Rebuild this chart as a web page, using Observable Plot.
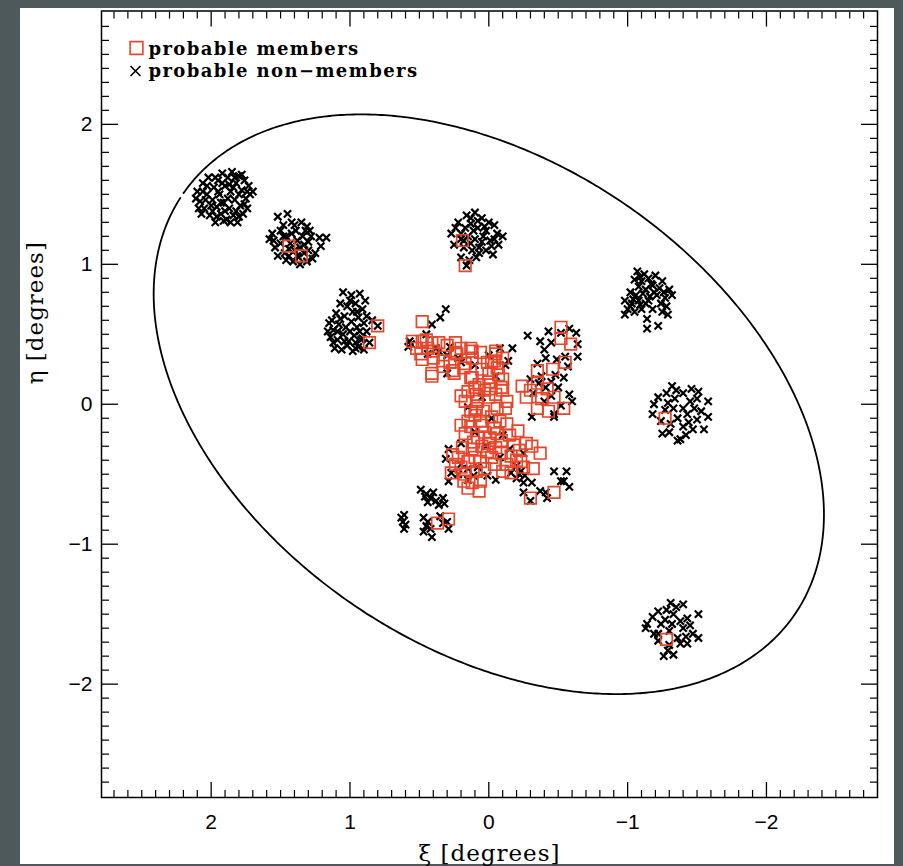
<!DOCTYPE html>
<html><head><meta charset="utf-8">
<script src="https://cdn.jsdelivr.net/npm/d3@7"></script>
<script src="https://cdn.jsdelivr.net/npm/@observablehq/plot@0.6"></script>
<style>
html,body{margin:0;padding:0;background:#4e595b;width:903px;height:866px;overflow:hidden;}
#paper{position:absolute;left:20px;top:8px;width:874px;height:856px;background:#fff;}
#chart{position:absolute;left:0;top:0;}
</style></head><body>
<div id="paper"></div><div id="chart"></div>
<script>
// ---- data (xi, eta in degrees) ----
const xTicks = [2, 1, 0, -1, -2];
const yTicks = [2, 1, 0, -1, -2];
const seriesNames = ["probable members", "probable non\u2212members"];

// tidal ellipse parameters
const tidalRadius = 2.667;   // semi-major axis, degrees
const ellipticity = 0.35;
const positionAngle = 56;    // degrees, N through E

const membersCentre = [
[0.48,0.59],[0.55,0.45],[0.48,0.45],[0.41,0.44],[0.49,0.36],[0.40,0.38],[0.33,0.31],[0.41,0.22],[0.24,0.44],[0.24,0.37],[0.25,0.22],[0.13,0.40],[0.12,0.33],[0.18,0.26],[0.13,0.19],[0.06,0.37],[0.01,0.30],[-0.05,0.36],[-0.06,0.26],[0.00,0.22],[0.07,0.14],[-0.01,0.11],[-0.09,0.12],[-0.10,0.18],[0.15,0.09],[0.17,0.02],[0.08,0.02],[0.13,-0.05],[0.04,-0.05],[-0.06,-0.03],[-0.13,0.02],
[0.44,0.40],[0.48,0.32],[0.40,0.33],[0.41,0.20],[0.33,0.27],[0.23,0.36],[0.26,0.24],[0.12,0.38],[0.17,0.29],[0.12,0.19],[-0.05,0.38],[-0.04,0.31],[-0.10,0.33],[-0.07,0.21],[0.00,0.16],[0.09,0.07],[0.00,0.05],[-0.10,0.10],[0.09,-0.03],[-0.12,-0.03],
[0.20,0.40],[0.30,0.42],[0.36,0.44],[0.45,0.46],[0.52,0.40],[0.28,0.30],[0.05,0.25],[-0.02,0.30],[0.10,0.12],[0.03,0.10],[-0.05,0.07],[0.20,0.06]
];
const membersEastArm = [
[-0.52,0.55],[-0.52,0.47],[-0.59,0.43],[-0.55,0.30],[-0.46,0.25],[-0.35,0.24],[-0.35,0.15],[-0.24,0.13],[-0.27,0.05],[-0.35,-0.03],[-0.42,0.11],[-0.47,0.05],[-0.54,-0.03],[-0.43,-0.05],[-0.30,0.10],[-0.38,0.04]
];
const membersSouth = [
[0.15,-0.12],[0.06,-0.12],[-0.04,-0.17],[-0.13,-0.14],[-0.21,-0.19],[0.17,-0.21],[0.08,-0.24],[-0.01,-0.24],[-0.09,-0.26],[-0.18,-0.29],[-0.27,-0.28],[-0.31,-0.30],[-0.37,-0.35],[0.19,-0.31],[0.12,-0.32],[0.01,-0.34],[-0.09,-0.35],[-0.16,-0.37],[0.26,-0.36],[0.24,-0.43],[0.15,-0.41],[0.06,-0.41],[-0.04,-0.43],[-0.13,-0.43],[-0.23,-0.41],[-0.32,-0.46],[0.27,-0.49],[0.17,-0.50],[0.09,-0.48],[0.12,-0.56],[0.15,-0.60],[0.06,-0.55],[-0.16,-0.49],[-0.30,-0.67],[-0.47,-0.63],[0.37,-0.85],[0.29,-0.82],
[0.10,-0.08],[-0.02,-0.09],[0.20,-0.15],[0.03,-0.20],[-0.06,-0.21],[0.11,-0.27],[-0.22,-0.33],[0.05,-0.30],[-0.02,-0.38],[0.20,-0.45],[0.07,-0.62],
[0.05,-0.15],[-0.08,-0.12],[0.13,-0.16],[-0.15,-0.22],[0.00,-0.28],[-0.05,-0.31],[0.22,-0.38],[-0.20,-0.40],[0.10,-0.38],[-0.25,-0.45],[0.03,-0.46],[0.18,-0.55],[-0.10,-0.48]
];
const membersOuter = [
[1.44,1.13],[1.35,1.06],[0.80,0.56],[0.86,0.44],[0.19,1.17],[0.17,0.99],[-1.27,-0.10],[-1.28,-1.68]
];

const nonFieldA = [
[2.10,1.52],[2.08,1.45],[2.06,1.58],[2.05,1.40],[2.03,1.50],[2.02,1.62],[2.01,1.35],[1.99,1.46],[1.98,1.55],[1.97,1.30],[1.96,1.41],[1.95,1.60],[1.94,1.50],[1.93,1.36],[1.92,1.65],[1.91,1.44],[1.90,1.56],[1.89,1.32],[1.88,1.62],[1.87,1.40],[1.86,1.52],[1.85,1.66],[1.84,1.35],[1.83,1.46],[1.82,1.58],[1.81,1.30],[1.80,1.63],[1.79,1.42],[1.78,1.53],[1.77,1.36],[1.76,1.60],[1.75,1.47],[1.74,1.40],[1.73,1.56],[1.72,1.50],[2.07,1.36],[2.11,1.47],[1.96,1.34],[1.88,1.47],[1.82,1.38],[1.78,1.64],[1.92,1.58],[2.00,1.42],[1.86,1.30],[1.70,1.52],[2.04,1.46],[1.95,1.52],[1.84,1.55],[1.90,1.38],[1.80,1.50],
[2.09,1.40],[2.03,1.56],[1.97,1.62],[1.93,1.44],[1.87,1.57],[1.83,1.62],[1.80,1.34],[1.76,1.43],[1.74,1.52],[1.99,1.38],[1.91,1.31],[2.06,1.52]
];
const nonFieldB = [
[1.52,1.34],[1.45,1.36],[1.40,1.28],[1.35,1.30],[1.31,1.27],[1.29,1.24],[1.56,1.22],[1.58,1.18],[1.50,1.24],[1.46,1.20],[1.42,1.22],[1.38,1.17],[1.34,1.20],[1.30,1.16],[1.22,1.19],[1.17,1.19],[1.21,1.13],[1.54,1.12],[1.50,1.15],[1.47,1.08],[1.44,1.11],[1.40,1.10],[1.37,1.05],[1.33,1.08],[1.30,1.10],[1.27,1.04],[1.52,1.06],[1.46,1.03],[1.41,1.02],[1.36,1.00],[1.31,1.02],[1.48,1.28],[1.43,1.15],[1.39,1.24],[1.33,1.14],[1.25,1.08],[1.55,1.17],[1.44,1.06],[1.36,1.12],[1.28,1.20],
[1.48,1.20],[1.32,1.24],[1.38,1.06],[1.42,1.30]
];
const nonFieldC = [
[1.05,0.80],[0.99,0.78],[0.93,0.79],[0.89,0.74],[1.07,0.72],[1.02,0.70],[0.96,0.72],[0.91,0.68],[1.10,0.65],[1.04,0.63],[0.98,0.66],[0.94,0.62],[0.88,0.63],[1.15,0.58],[1.12,0.53],[1.08,0.57],[1.03,0.55],[0.99,0.59],[0.95,0.55],[0.90,0.58],[0.84,0.60],[1.14,0.48],[1.09,0.46],[1.05,0.50],[1.01,0.45],[0.97,0.49],[0.92,0.46],[0.88,0.52],[1.11,0.40],[1.06,0.39],[1.02,0.42],[0.98,0.38],[0.94,0.41],[0.90,0.39],[0.86,0.44],[1.00,0.52],[1.07,0.61],[0.93,0.52],[1.12,0.44],[0.96,0.44],[0.80,0.56],
[1.13,0.60],[1.09,0.52],[1.04,0.45],[0.95,0.66],[0.91,0.47],[1.00,0.74],[0.96,0.40],[1.16,0.52]
];
const nonFieldD = [
[0.16,1.35],[0.10,1.37],[0.05,1.33],[0.00,1.30],[-0.04,1.28],[0.22,1.30],[0.13,1.29],[0.08,1.26],[0.02,1.24],[-0.06,1.22],[-0.10,1.20],[0.27,1.22],[0.20,1.22],[0.15,1.20],[0.10,1.18],[0.05,1.16],[-0.01,1.17],[-0.07,1.14],[0.25,1.14],[0.18,1.12],[0.12,1.10],[0.07,1.08],[0.02,1.10],[-0.03,1.07],[0.20,1.05],[0.14,1.03],[0.09,1.05],[0.16,0.99],[0.11,1.24],[0.04,1.20],[0.18,1.17],[-0.02,1.13],[0.08,1.31],[0.24,1.26],[0.13,1.15],[0.17,1.26],
[0.13,1.33],[0.03,1.27],[0.20,1.18],[-0.04,1.18],[0.07,1.12]
];
const nonFieldE = [
[-1.07,0.95],[-1.12,0.93],[-1.05,0.89],[-1.10,0.88],[-1.15,0.90],[-1.20,0.92],[-1.25,0.88],[-1.08,0.84],[-1.13,0.82],[-1.18,0.85],[-1.23,0.83],[-1.30,0.82],[-1.02,0.80],[-1.06,0.78],[-1.11,0.79],[-1.16,0.77],[-1.21,0.78],[-1.27,0.76],[-1.32,0.78],[-0.98,0.74],[-1.03,0.72],[-1.08,0.74],[-1.13,0.72],[-1.24,0.72],[-1.00,0.68],[-1.05,0.66],[-1.10,0.68],[-0.98,0.64],[-1.18,0.68],[-1.29,0.64],[-1.25,0.66],[-1.14,0.61],[-1.22,0.56],[-1.14,0.54],[-1.17,0.86],[-1.02,0.70],[-1.09,0.71],[-1.28,0.70],
[-1.09,0.91],[-1.19,0.80],[-1.26,0.80],[-1.04,0.75],[-1.15,0.74]
];
const nonFieldF = [
[-1.32,0.13],[-1.40,0.08],[-1.51,0.09],[-1.58,0.02],[-1.19,0.00],[-1.29,0.01],[-1.18,-0.07],[-1.40,-0.03],[-1.48,-0.03],[-1.58,-0.09],[-1.36,-0.10],[-1.43,-0.07],[-1.50,-0.11],[-1.55,-0.18],[-1.47,-0.18],[-1.40,-0.16],[-1.25,-0.21],[-1.38,-0.25],[-1.36,-0.26],[-1.31,-0.14],[-1.22,0.05],[-1.34,0.04],[-1.45,0.02],[-1.27,-0.04],[-1.33,-0.03],[-1.24,-0.12],[-1.44,-0.13],[-1.35,0.10],[-1.46,0.11],[-1.53,-0.05],
[-1.28,0.08],[-1.50,0.04],[-1.42,-0.22],[-1.30,-0.20]
];
const nonFieldG = [
[-1.31,-1.42],[-1.40,-1.43],[-1.22,-1.48],[-1.33,-1.50],[-1.43,-1.53],[-1.51,-1.50],[-1.14,-1.57],[-1.24,-1.57],[-1.32,-1.57],[-1.40,-1.60],[-1.47,-1.64],[-1.13,-1.60],[-1.22,-1.64],[-1.51,-1.67],[-1.38,-1.71],[-1.43,-1.71],[-1.29,-1.76],[-1.33,-1.79],[-1.26,-1.80],[-1.22,-1.69],[-1.19,-1.64],[-1.36,-1.67],[-1.27,-1.54],[-1.38,-1.55],[-1.28,-1.47],[-1.45,-1.58],[-1.30,-1.62],
[-1.35,-1.45],[-1.18,-1.52],[-1.42,-1.66],[-1.30,-1.72]
];
const nonCentre = [
[0.41,0.57],[0.35,0.62],[0.31,0.68],[0.57,0.45],[0.58,0.41],[0.56,0.43],[0.45,0.50],[0.38,0.40],[0.30,0.35],[0.20,0.30],[0.10,0.28],[0.00,0.35],[-0.05,0.20],[0.05,0.05],[0.15,-0.02],[-0.02,-0.10],[0.10,-0.20],[-0.10,-0.22],[0.20,-0.28],[0.02,-0.30],[-0.15,-0.32],[-0.25,-0.35],[0.08,-0.45],[-0.08,-0.38],[-0.20,-0.44],[0.22,-0.50],[0.15,-0.46],[-0.30,0.18],[-0.38,0.20],[-0.45,0.16],[-0.32,0.08],[-0.40,0.02],[0.30,0.22],[0.28,0.41],[-0.12,0.28],[-0.17,0.40],[0.36,0.38],[0.44,0.36],[0.22,0.33],[-0.08,0.40],[-0.14,0.31]
];
const nonEastArm = [
[-0.28,0.49],[-0.43,0.52],[-0.45,0.44],[-0.40,0.39],[-0.41,0.33],[-0.52,0.51],[-0.63,0.51],[-0.64,0.43],[-0.55,0.34],[-0.64,0.34],[-0.49,0.32],[-0.57,0.27],[-0.54,0.19],[-0.48,0.21],[-0.35,0.29],[-0.58,0.07],[-0.60,0.02],[-0.47,-0.07],[-0.41,0.12],[-0.36,0.15],[-0.58,0.54],[-0.37,0.45],[-0.50,0.12],[-0.45,0.06],[-0.52,-0.01]
];
const nonSouth = [
[-0.47,-0.09],[-0.31,-0.09],[-0.47,-0.48],[-0.56,-0.48],[-0.54,-0.55],[-0.58,-0.59],[-0.52,-0.55],[-0.37,-0.62],[-0.41,-0.63],[-0.25,-0.63],[-0.31,-0.56],[-0.25,-0.56],[-0.30,-0.69],[-0.22,-0.50],[-0.23,-0.48],[-0.16,-0.49],[0.01,-0.51],[-0.05,-0.54],[0.29,-0.32],[0.31,-0.39],[0.20,-0.43],[0.27,-0.49],[0.29,-0.55],[0.15,-0.54],[0.11,-0.51],[-0.42,-0.67],[-0.20,-0.53],[-0.26,-0.51]
];
const nonSouthWest = [
[0.49,-0.61],[0.45,-0.64],[0.42,-0.67],[0.38,-0.69],[0.33,-0.67],[0.32,-0.71],[0.44,-0.70],[0.61,-0.79],[0.62,-0.84],[0.61,-0.89],[0.63,-0.81],[0.47,-0.81],[0.44,-0.84],[0.42,-0.89],[0.47,-0.91],[0.41,-0.95],[0.30,-0.84],[0.29,-0.89],[0.33,-0.85],[0.46,-0.66],[0.40,-0.63],[0.36,-0.72],[0.60,-0.86],[0.45,-0.87],[0.35,-0.80]
];

// ---- build tables ----
const members = [...membersCentre, ...membersEastArm, ...membersSouth, ...membersOuter].map(([xi, eta]) => ({xi, eta}));
const nonMembers = [...nonFieldA, ...nonFieldB, ...nonFieldC, ...nonFieldD, ...nonFieldE, ...nonFieldF, ...nonFieldG,
  ...nonCentre, ...nonEastArm, ...nonSouth, ...nonSouthWest].map(([xi, eta]) => ({xi, eta}));

const a = tidalRadius, b = tidalRadius * (1 - ellipticity);
const th = (90 - positionAngle) * Math.PI / 180;
const ellipse = d3.range(0.012, 2 * Math.PI - 0.012, 0.01).concat([2 * Math.PI - 0.012]).map(t => ({
  xi: a * Math.cos(t) * Math.cos(th) - b * Math.sin(t) * Math.sin(th),
  eta: a * Math.cos(t) * Math.sin(th) + b * Math.sin(t) * Math.cos(th)
}));

const minor = d3.range(-27, 28).map(i => i / 10).filter(v => Math.abs(Math.round(v) - v) > 1e-6);

const RED = "#e8462b";
const serif = "'DejaVu Serif', serif";
const sans = "'Liberation Sans', Arial, sans-serif";
const noText = () => "";
const intFmt = d => (d < 0 ? "\u2212" : "") + Math.abs(d);

const chart = Plot.plot({
  width: 903,
  height: 866,
  marginLeft: 101,
  marginRight: 26,
  marginTop: 10.5,
  marginBottom: 69,
  x: {domain: [2.79, -2.8], label: null},
  y: {domain: [-2.81, 2.81], label: null},
  style: {background: "transparent", fontFamily: sans, color: "black"},
  marks: [
    // tick marks (inward, all four sides)
    Plot.axisX(minor, {anchor: "bottom", tickSize: -7, tickFormat: noText, label: null, strokeWidth: 1.2}),
    Plot.axisX(minor, {anchor: "top", tickSize: -7, tickFormat: noText, label: null, strokeWidth: 1.2}),
    Plot.axisX(xTicks, {anchor: "bottom", tickSize: -15, tickFormat: noText, label: null, strokeWidth: 1.3}),
    Plot.axisX(xTicks, {anchor: "top", tickSize: -15, tickFormat: noText, label: null, strokeWidth: 1.3}),
    Plot.axisY(minor, {anchor: "left", tickSize: -8, tickFormat: noText, label: null, strokeWidth: 1.2}),
    Plot.axisY(minor, {anchor: "right", tickSize: -8, tickFormat: noText, label: null, strokeWidth: 1.2}),
    Plot.axisY(yTicks, {anchor: "left", tickSize: -17, tickFormat: noText, label: null, strokeWidth: 1.3}),
    Plot.axisY(yTicks, {anchor: "right", tickSize: -17, tickFormat: noText, label: null, strokeWidth: 1.3}),
    // tick labels
    Plot.axisX(xTicks, {anchor: "bottom", tickSize: 0, tickPadding: 17, tickFormat: intFmt, label: null, fontSize: 21, fontFamily: sans}),
    Plot.axisY(yTicks, {anchor: "left", tickSize: 0, tickPadding: 9, tickFormat: intFmt, label: null, fontSize: 21, fontFamily: sans}),
    Plot.frame({stroke: "black", strokeWidth: 1.5}),
    // tidal ellipse
    Plot.line(ellipse, {x: "xi", y: "eta", stroke: "black", strokeWidth: 1.8}),
    // stars
    Plot.dot(nonMembers, {x: "xi", y: "eta", symbol: "times", r: 3.4, stroke: "black", strokeWidth: 2.2}),
    Plot.dot(members, {x: "xi", y: "eta", symbol: "square", r: 6.5, stroke: RED, strokeWidth: 1.7, fill: "none"}),
    // legend
    Plot.dot([seriesNames[0]], {x: null, y: null, frameAnchor: "top-left", dx: 35, dy: 37, symbol: "square", r: 7.2, stroke: RED, strokeWidth: 1.6, fill: "none"}),
    Plot.dot([seriesNames[1]], {x: null, y: null, frameAnchor: "top-left", dx: 34, dy: 60, symbol: "times", r: 4.6, stroke: "black", strokeWidth: 1.6}),
    Plot.text([seriesNames[0]], {x: null, y: null, text: d => d, frameAnchor: "top-left", dx: 47, dy: 38, textAnchor: "start", lineAnchor: "middle", fontSize: 18, fontWeight: "bold", fontFamily: serif}),
    Plot.text([seriesNames[1]], {x: null, y: null, text: d => d, frameAnchor: "top-left", dx: 47, dy: 60, textAnchor: "start", lineAnchor: "middle", fontSize: 18, fontWeight: "bold", fontFamily: serif}),
    // axis titles
    Plot.text(["\u03be [degrees]"], {x: null, y: null, text: d => d, frameAnchor: "bottom", dy: 56, lineAnchor: "middle", fontSize: 23, fontFamily: serif}),
    Plot.text(["\u03b7 [degrees]"], {x: null, y: null, text: d => d, frameAnchor: "left", dx: -66, dy: -20, rotate: -90, lineAnchor: "middle", fontSize: 23, fontFamily: serif})
  ]
});

d3.select(chart).selectAll("text")
  .filter(function() { return this.textContent.startsWith("probable"); })
  .attr("letter-spacing", "1.4px");
d3.select(chart).selectAll("text")
  .filter(function() { return this.textContent.includes("[degrees]"); })
  .attr("letter-spacing", "1px");

document.getElementById("chart").appendChild(chart);
</script></body></html>
